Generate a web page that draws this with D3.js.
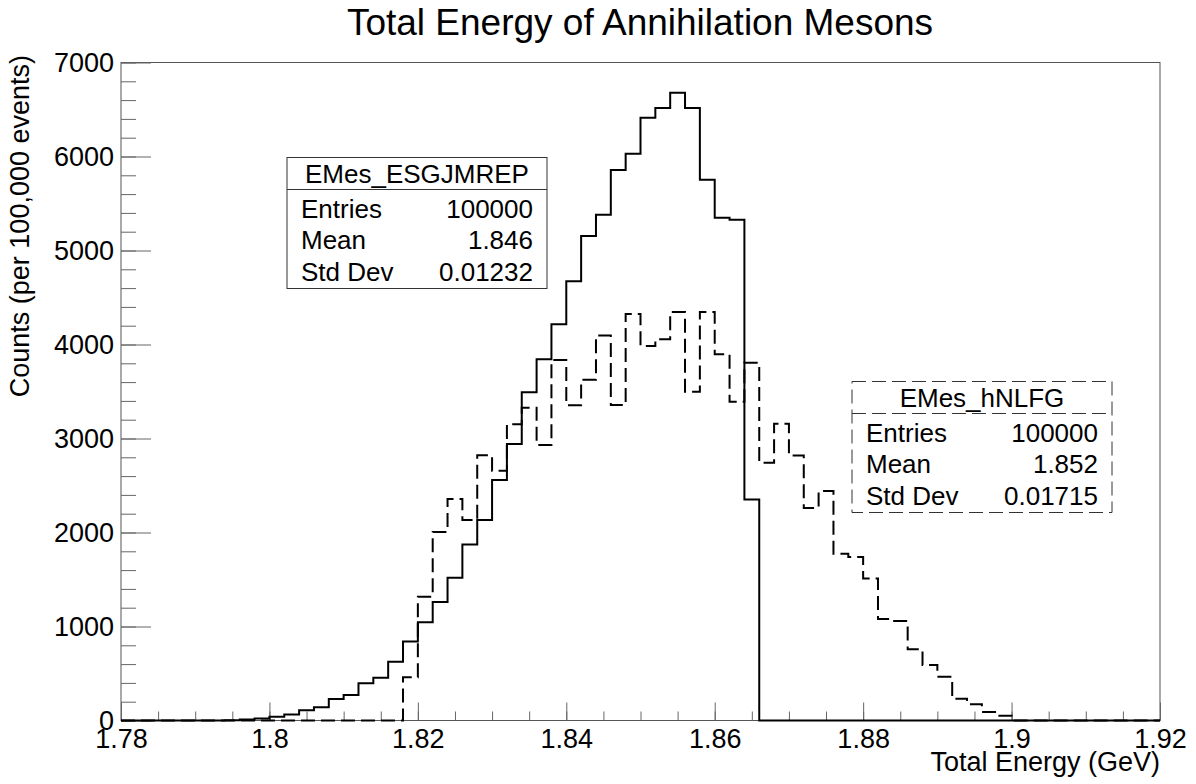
<!doctype html>
<head>
  <style>
    html, body {
      margin: 0;
      padding: 0;
      width: 1196px;
      height: 784px;
      background: white;
    }
    svg text {
      font-family: "Liberation Sans", Arial, sans-serif;
      fill: black;
    }
    .axis path.domain { display: none; }
    .axis line { stroke: #666; stroke-width: 1px; }
    .axis text { font-size: 27px; font-family: "Liberation Sans", Arial, sans-serif; }
  </style>
  <script src="https://cdn.jsdelivr.net/npm/d3@7"></script>
</head>

<body>
  <svg id="chart" width="1196" height="784"></svg>

  <script>
    // bin counts, 70 bins of 0.002 GeV from 1.78 to 1.92
    var solidCounts = [
      0, 0, 0, 0, 0, 0, 0, 3, 10, 20,
      40, 65, 110, 140, 228, 272, 395, 455, 625, 840,
      1045, 1260, 1519, 1872, 2133, 2559, 2941, 3491, 3843, 4216,
      4672, 5154, 5381, 5856, 6030, 6413, 6516, 6679, 6516, 5753,
      5349, 5328, 2352, 0, 0, 0, 0, 0, 0, 0,
      0, 0, 0, 0, 0, 0, 0, 0, 0, 0,
      0, 0, 0, 0, 0, 0, 0, 0, 0, 0
    ];
    var dashedCounts = [
      0, 0, 0, 0, 0, 0, 0, 0, 0, 0,
      0, 0, 0, 0, 0, 0, 0, 0, 0, 460,
      1317, 2006, 2356, 2133, 2821, 2658, 3151, 3328, 2931, 3835,
      3353, 3625, 4095, 3356, 4324, 3984, 4055, 4346, 3498, 4346,
      3897, 3392, 3807, 2742, 3158, 2819, 2260, 2441, 1775, 1740,
      1511, 1080, 1059, 757, 590, 466, 232, 174, 90, 51,
      0, 0, 0, 0, 0, 0, 0, 0, 0, 0
    ];
    var xTicks = [1.78, 1.8, 1.82, 1.84, 1.86, 1.88, 1.9, 1.92];
    var yTicks = [0, 1000, 2000, 3000, 4000, 5000, 6000, 7000];
    var solidStats = ['EMes_ESGJMREP', '100000', '1.846', '0.01232'];
    var dashedStats = ['EMes_hNLFG', '100000', '1.852', '0.01715'];
    var statLabels = ['Entries', 'Mean', 'Std Dev'];

    var xMin = 1.78, binWidth = 0.002;

    var padL = 121, padR = 1160, padT = 62.5, padB = 720.5;
    var svg = d3.select('#chart');

    var x = d3.scaleLinear().domain([1.78, 1.92]).range([padL, padR]);
    var y = d3.scaleLinear().domain([0, 7000]).range([padB, padT]);

    // frame
    svg.append('rect')
        .attr('x', padL).attr('y', padT)
        .attr('width', padR - padL).attr('height', padB - padT)
        .attr('fill', 'none')
        .attr('stroke', '#555')
        .attr('stroke-width', 1);

    // minor ticks
    svg.append('g')
        .attr('class', 'axis')
        .attr('transform', 'translate(0,' + padB + ')')
        .call(d3.axisBottom(x)
            .tickValues(d3.range(29).map(function(i) { return 1.78 + i * 0.005; }))
            .tickSize(-9).tickFormat(''));
    svg.append('g')
        .attr('class', 'axis')
        .attr('transform', 'translate(' + padL + ',0)')
        .call(d3.axisLeft(y)
            .tickValues(d3.range(36).map(function(i) { return i * 200; }))
            .tickSize(-15).tickFormat(''));

    // major ticks + labels
    svg.append('g')
        .attr('class', 'axis')
        .attr('transform', 'translate(0,' + padB + ')')
        .call(d3.axisBottom(x)
            .tickValues(xTicks)
            .tickSize(-18).tickPadding(8)
            .tickFormat(function(d) { return String(+d.toFixed(2)); }));
    svg.append('g')
        .attr('class', 'axis')
        .attr('transform', 'translate(' + padL + ',0)')
        .call(d3.axisLeft(y)
            .tickValues(yTicks)
            .tickSize(-30).tickPadding(7)
            .tickFormat(d3.format('d')));

    // histograms as step outlines
    function steps(counts) {
      var pts = [[xMin, 0]];
      counts.forEach(function(c, i) {
        pts.push([xMin + i * binWidth, c]);
        pts.push([xMin + (i + 1) * binWidth, c]);
      });
      pts.push([xMin + counts.length * binWidth, 0]);
      return pts;
    }
    var line = d3.line()
        .x(function(d) { return x(d[0]); })
        .y(function(d) { return y(d[1]); });

    svg.append('path')
        .attr('d', line(steps(dashedCounts)))
        .attr('fill', 'none')
        .attr('stroke', 'black')
        .attr('stroke-width', 2)
        .attr('stroke-dasharray', '14,6');
    svg.append('path')
        .attr('d', line(steps(solidCounts)))
        .attr('fill', 'none')
        .attr('stroke', 'black')
        .attr('stroke-width', 2);

    // stats boxes
    function statBox(x0, y0, w, stats, dashed) {
      var g = svg.append('g');
      var dash = dashed ? '14,6' : null;
      g.append('rect')
          .attr('x', x0).attr('y', y0)
          .attr('width', w).attr('height', 131)
          .attr('fill', 'white')
          .attr('stroke', '#333')
          .attr('stroke-width', 1)
          .attr('stroke-dasharray', dash);
      g.append('line')
          .attr('x1', x0).attr('x2', x0 + w)
          .attr('y1', y0 + 32).attr('y2', y0 + 32)
          .attr('stroke', '#333')
          .attr('stroke-width', 1)
          .attr('stroke-dasharray', dash);
      g.append('text')
          .attr('x', x0 + w / 2).attr('y', y0 + 25)
          .attr('text-anchor', 'middle')
          .style('font-size', '26px')
          .text(stats[0]);
      statLabels.forEach(function(lab, i) {
        var by = y0 + 60 + i * 31.5;
        g.append('text')
            .attr('x', x0 + 14).attr('y', by)
            .style('font-size', '26px')
            .text(lab);
        g.append('text')
            .attr('x', x0 + w - 14).attr('y', by)
            .attr('text-anchor', 'end')
            .style('font-size', '26px')
            .text(stats[i + 1]);
      });
    }
    statBox(287, 157.5, 260, solidStats, false);
    statBox(852, 381.5, 260, dashedStats, true);

    // titles
    svg.append('text')
        .attr('x', 640).attr('y', 35)
        .attr('text-anchor', 'middle')
        .style('font-size', '37px')
        .text('Total Energy of Annihilation Mesons');
    svg.append('text')
        .attr('x', padR).attr('y', 771)
        .attr('text-anchor', 'end')
        .style('font-size', '27px')
        .text('Total Energy (GeV)');
    svg.append('text')
        .attr('transform', 'translate(29,55) rotate(-90)')
        .attr('text-anchor', 'end')
        .style('font-size', '27px')
        .text('Counts (per 100,000 events)');
  </script>
</body>
